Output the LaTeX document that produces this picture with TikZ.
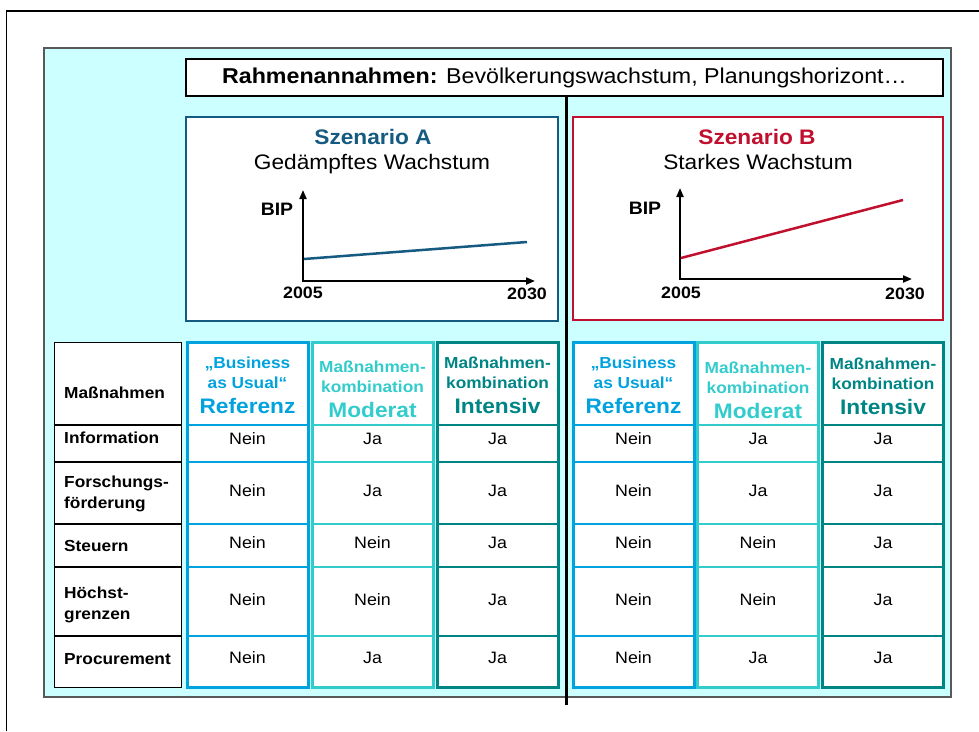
\documentclass[tikz,border=0pt]{standalone}
\usepackage{fontspec}
\setmainfont[FakeStretch=1.08]{Liberation Sans}
\usetikzlibrary{arrows.meta}
\definecolor{panel}{HTML}{CCFFFF}
\definecolor{scA}{HTML}{155A80}
\definecolor{scB}{HTML}{C0102E}
\definecolor{cRef}{HTML}{00A3DD}
\definecolor{cMod}{HTML}{33CCCC}
\definecolor{cInt}{HTML}{008585}
\newcommand\myfs[2]{\fontsize{#1}{#2}\selectfont}
\begin{document}
\begin{tikzpicture}[x=1pt,y=-1pt,
  box/.style={draw, fill=white, rectangle, inner sep=0pt},
  axes/.style={line width=2pt, line join=miter, {Triangle[length=9pt,width=7pt]}-{Triangle[length=9pt,width=7pt]}},
  val/.style={font=\myfs{16.5}{20}, inner sep=0pt},
  rowlab/.style={anchor=west, align=left, font=\bfseries\myfs{16}{21}, inner sep=0pt},
  colhead/.style={align=center, font=\bfseries\myfs{16}{20}, inner sep=0pt},
  sctitle/.style={font=\bfseries\myfs{21}{25}, inner sep=0pt},
  scsub/.style={font=\myfs{21}{25}, inner sep=0pt},
  axlab/.style={font=\bfseries\myfs{16.5}{20}, inner sep=0pt},
]
\useasboundingbox (0,0) rectangle (979,731);
% outer frame
\draw[line width=1.5pt] (6.7,731) -- (6.7,11) -- (979,11);
% cyan panel
\filldraw[fill=panel, draw=black!65, line width=1.2pt] (44,48) rectangle (951,697);
% central divider
\coordinate (vtop) at (566.5,96);
\coordinate (vbot) at (566.5,705);
\draw[line width=3pt] (vtop) -- (vbot);
% header
\node[box, line width=2.5pt, minimum width=757pt, minimum height=37pt] (hdr) at (564.5,77.5)
  {\myfs{21.5}{24}\textbf{Rahmenannahmen:} Bevölkerungswachstum, Planungshorizont…};

% Scenario A
\node[box, draw=scA, line width=2.5pt, minimum width=372pt, minimum height=204pt] (boxA) at (372,219) {};
\node[sctitle, text=scA] (titA) at (373,137) {Szenario A};
\node[scsub] (subA) at (372,164) {Gedämpftes Wachstum};
\coordinate (oA) at (303,281);
\coordinate (yA) at (303,190);
\coordinate (xA) at (535,281);
\draw[axes] (yA) -- (oA) -- (xA);
\coordinate (gA1) at (304,259);
\coordinate (gA2) at (527,242);
\draw[scA, line width=2.5pt] (gA1) -- (gA2);
\node[font=\bfseries\myfs{18}{20}, inner sep=0pt] (bipA) at (277,209) {BIP};
\node[axlab] (y1A) at (303,293) {2005};
\node[axlab] (y2A) at (527,294) {2030};

% Scenario B
\node[box, draw=scB, line width=2.5pt, minimum width=370pt, minimum height=203pt] (boxB) at (758,218.5) {};
\node[sctitle, text=scB] (titB) at (757,137) {Szenario B};
\node[scsub] (subB) at (758,162) {Starkes Wachstum};
\coordinate (oB) at (680,279);
\coordinate (yB) at (680,188);
\coordinate (xB) at (912,279);
\draw[axes] (yB) -- (oB) -- (xB);
\coordinate (gB1) at (681,258);
\coordinate (gB2) at (903,200);
\draw[scB, line width=2.5pt] (gB1) -- (gB2);
\node[font=\bfseries\myfs{18}{20}, inner sep=0pt] (bipB) at (645,208) {BIP};
\node[axlab] (y1B) at (681,293) {2005};
\node[axlab] (y2B) at (905,294) {2030};

% label column
\node[box, draw=black, line width=1pt, minimum width=127pt, minimum height=345pt] (labcol) at (117.5,514.5) {};
\foreach \ry in {425,462,524,567,636}
  \draw[line width=1.5pt] (labcol.west |- 0,\ry) -- (labcol.east |- 0,\ry);

% measure columns
\foreach \cx/\cc/\nm in {247.5/cRef/lR, 372.5/cMod/lM, 497.5/cInt/lI, 633.5/cRef/rR, 758/cMod/rM, 883/cInt/rI} {
  \node[box, draw=\cc, line width=3pt, minimum width=121pt, minimum height=345pt] (col\nm) at (\cx,514.5) {};
  \foreach \ry in {425,462,524,567,636}
    \draw[\cc, line width=1.5pt] (col\nm.west |- 0,\ry) -- (col\nm.east |- 0,\ry);
}

% column headers
\node[colhead, text=cRef] (hlR) at (247.5,385) {„Business\\as Usual“\\[5pt]{\myfs{21}{25}Referenz}};
\node[colhead, text=cMod] (hlM) at (372.5,389) {Maßnahmen-\\kombination\\[5pt]{\myfs{21}{25}Moderat}};
\node[colhead, text=cInt] (hlI) at (497.5,385) {Maßnahmen-\\kombination\\[5pt]{\myfs{21}{25}Intensiv}};
\node[colhead, text=cRef] (hrR) at (633.5,385) {„Business\\as Usual“\\[5pt]{\myfs{21}{25}Referenz}};
\node[colhead, text=cMod] (hrM) at (758,390) {Maßnahmen-\\kombination\\[5pt]{\myfs{21}{25}Moderat}};
\node[colhead, text=cInt] (hrI) at (883,386) {Maßnahmen-\\kombination\\[5pt]{\myfs{21}{25}Intensiv}};

% row labels
\node[rowlab] (rl0) at (64,393) {Maßnahmen};
\node[rowlab] (rl1) at (64,438) {Information};
\node[rowlab] (rl2) at (64,494) {Forschungs-\\förderung};
\node[rowlab] (rl3) at (64,546) {Steuern};
\node[rowlab] (rl4) at (64,605) {Höchst-\\grenzen};
\node[rowlab] (rl5) at (64,659) {Procurement};

% cell values
\foreach \ry/\a/\b/\c/\i in {439/Nein/Ja/Ja/1, 491/Nein/Ja/Ja/2, 543/Nein/Nein/Ja/3, 600/Nein/Nein/Ja/4, 658/Nein/Ja/Ja/5} {
  \node[val] (vlR\i) at (247.5,\ry) {\a};
  \node[val] (vlM\i) at (372.5,\ry) {\b};
  \node[val] (vlI\i) at (497.5,\ry) {\c};
  \node[val] (vrR\i) at (633.5,\ry) {\a};
  \node[val] (vrM\i) at (758,\ry) {\b};
  \node[val] (vrI\i) at (883,\ry) {\c};
}
\end{tikzpicture}
\end{document}
